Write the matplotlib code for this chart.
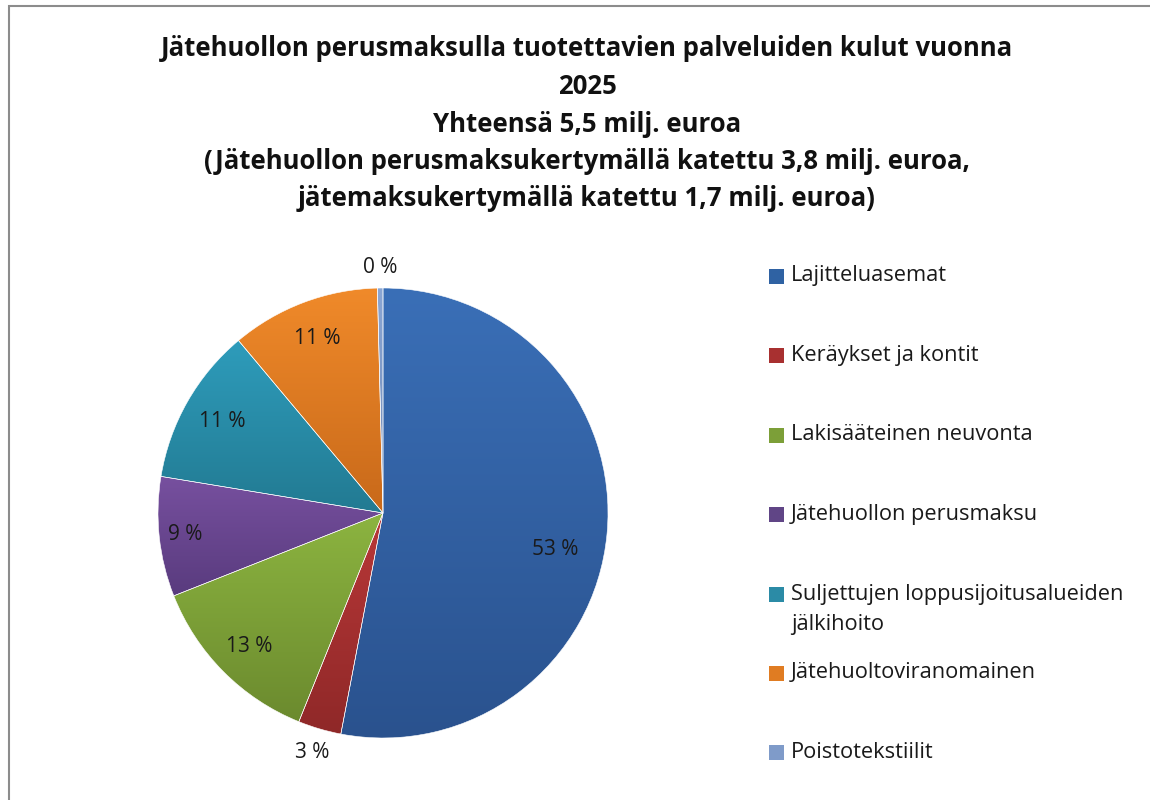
import matplotlib
matplotlib.use('Agg')
import matplotlib.pyplot as plt
from matplotlib.patches import Rectangle
from matplotlib.colors import to_rgb
import numpy as np

categories = ["Lajitteluasemat", "Keräykset ja kontit", "Lakisääteinen neuvonta",
              "Jätehuollon perusmaksu", "Suljettujen loppusijoitusalueiden\njälkihoito",
              "Jätehuoltoviranomainen", "Poistotekstiilit"]
shares = [53.0, 3.1, 12.9, 8.6, 11.3, 10.7, 0.4]
colors_top = ["#3a6fb7", "#b93838", "#8cb440", "#77509f", "#2e9cbb", "#f08a2a", "#8aa6d4"]
colors_bottom = ["#2a528e", "#8f2828", "#6b8a2e", "#593b7e", "#227a92", "#c8691a", "#6d87b5"]
legend_colors = ["#2f62a3", "#a83030", "#7c9f38", "#604586", "#2b8ba6", "#e07c22", "#7f9bc9"]
label_r = [0.78, 1.11, 0.84, 0.885, 0.825, 0.83, 1.09]
label_shift = [-6.5, 0, 0, 0, 0, 0, 0]  # degrees, nudges like Excel's best fit

title = ("Jätehuollon perusmaksulla tuotettavien palveluiden kulut vuonna\n2025\n"
         "Yhteensä 5,5 milj. euroa\n"
         "(Jätehuollon perusmaksukertymällä katettu 3,8 milj. euroa,\n"
         "jätemaksukertymällä katettu 1,7 milj. euroa)")

plt.rcParams['font.family'] = ['Open Sans', 'DejaVu Sans']

fig = plt.figure(figsize=(11.5, 8), dpi=100)
W, H = 1150, 800

# frame of the chart area
fig.patches.append(Rectangle((9 / W, -0.1), 1.2, 1 - 6 / H + 0.1, transform=fig.transFigure,
                             fill=False, edgecolor="#8c8c8c", linewidth=1.5))

fig.text(587 / W, 1 - 124 / H, title, ha="center", va="center", fontsize=18.5,
         fontweight="bold", color="#111111", linespacing=1.5)

ax = fig.add_axes([(383 - 225) / W, (800 - 738) / H, 450 / W, 450 / H])
wedges, _ = ax.pie(shares, colors=legend_colors, startangle=90, counterclock=False, radius=1,
                   wedgeprops=dict(edgecolor="white", linewidth=0.4))

# vertical gradient inside each slice, like the Excel style
for w, ct, cb in zip(wedges, colors_top, colors_bottom):
    th = np.deg2rad(np.linspace(w.theta1, w.theta2, 200))
    ys = np.r_[0, np.sin(th)]
    y_lo, y_hi = ys.min(), ys.max()
    t = np.linspace(0, 1, 256)[:, None]
    grad = (1 - t) * np.array(to_rgb(cb)) + t * np.array(to_rgb(ct))
    im = ax.imshow(grad[:, None, :], extent=(-1, 1, y_lo, y_hi), origin="lower",
                   aspect="auto", zorder=1, interpolation="bilinear")
    im.set_clip_path(w)
    w.set_facecolor("none")
    w.set_zorder(2)

ax.set_xlim(-1, 1)
ax.set_ylim(-1, 1)
ax.set_aspect("auto")
ax.axis("off")

for w, s, r, d in zip(wedges, shares, label_r, label_shift):
    mid = np.deg2rad((w.theta1 + w.theta2) / 2 + d)
    ax.text(r * np.cos(mid), r * np.sin(mid), "%d %%" % round(s), ha="center", va="center",
            fontsize=15, color="#1a1a1a", zorder=3)

# legend
y0, step = 276, 79.4
for i, (lab, c) in enumerate(zip(categories, legend_colors)):
    y = y0 + i * step
    fig.patches.append(Rectangle((769 / W, 1 - (y + 8) / H), 15 / W, 15 / H,
                                 transform=fig.transFigure, facecolor=c, edgecolor="none"))
    nlines = lab.count("\n") + 1
    yc = y + (nlines - 1) * 16
    fig.text(791 / W, 1 - yc / H, lab, ha="left", va="center",
             fontsize=15.7, color="#1a1a1a", linespacing=1.6)

fig.savefig("out.png", dpi=100)
